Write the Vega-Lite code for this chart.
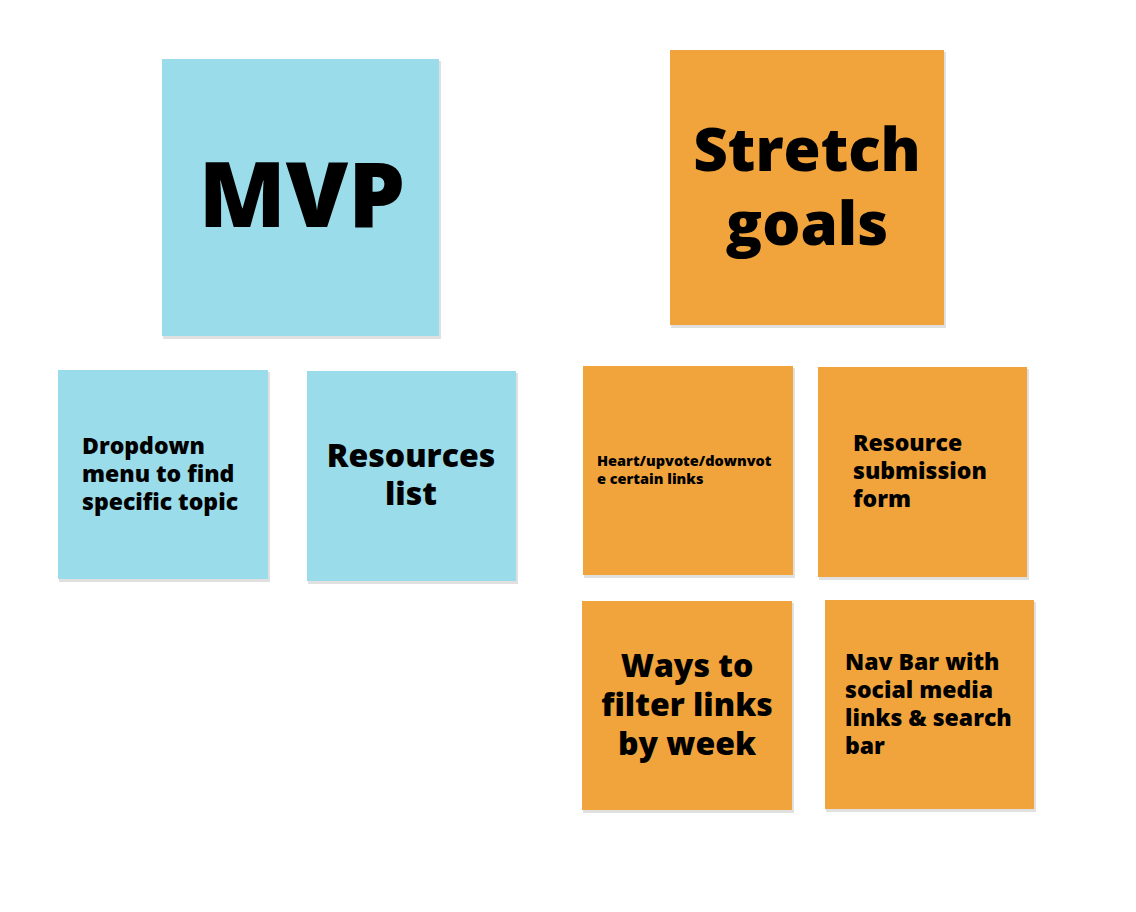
{
"$schema":"https://vega.github.io/schema/vega-lite/v6.json",
"autosize":{"type":"fit","contains":"padding"},
"width":1136,"height":912,"padding":0,
"background":"white",
"config":{"view":{"stroke":null}},
"datasets":{
"notes":[
{"id":"MVP","x":162,"x2":439,"y":59,"y2":336,"kind":"mvp"},
{"id":"Stretch","x":670,"x2":944,"y":50,"y2":325,"kind":"stretch"},
{"id":"Dropdown","x":58,"x2":268,"y":370,"y2":579,"kind":"mvp"},
{"id":"Resources","x":307,"x2":516,"y":371,"y2":581,"kind":"mvp"},
{"id":"Heart","x":583,"x2":793,"y":366,"y2":575,"kind":"stretch"},
{"id":"Submission","x":818,"x2":1027,"y":367,"y2":577,"kind":"stretch"},
{"id":"Ways","x":582,"x2":792,"y":601,"y2":810,"kind":"stretch"},
{"id":"Nav","x":825,"x2":1034,"y":600,"y2":809,"kind":"stretch"}
],
"center":[
{"x":302,"y":200,"text":"MVP","size":90},
{"x":807,"y":153,"text":"Stretch","size":60},
{"x":807,"y":227,"text":"goals","size":60},
{"x":411,"y":457,"text":"Resources","size":32},
{"x":411,"y":495,"text":"list","size":32},
{"x":687,"y":667,"text":"Ways to","size":32},
{"x":687,"y":706,"text":"filter links","size":32},
{"x":687,"y":745,"text":"by week","size":32}
],
"left":[
{"x":82,"y":447,"text":"Dropdown","size":23},
{"x":82,"y":475,"text":"menu to find","size":23},
{"x":82,"y":503,"text":"specific topic","size":23},
{"x":597,"y":462,"text":"Heart/upvote/downvot","size":14.5},
{"x":597,"y":480,"text":"e certain links","size":14.5},
{"x":853,"y":444,"text":"Resource","size":23},
{"x":853,"y":472,"text":"submission","size":23},
{"x":853,"y":500,"text":"form","size":23},
{"x":845,"y":663,"text":"Nav Bar with","size":23},
{"x":845,"y":691,"text":"social media","size":23},
{"x":845,"y":719,"text":"links & search","size":23},
{"x":845,"y":747,"text":"bar","size":23}
]
},
"layer":[
{"data":{"name":"notes"},"mark":{"type":"rect","color":"#000000","opacity":0.12},
"transform":[{"calculate":"datum.x+1","as":"sx"},{"calculate":"datum.x2+2","as":"sx2"},{"calculate":"datum.y+2","as":"sy"},{"calculate":"datum.y2+3","as":"sy2"}],
"encoding":{"x":{"field":"sx","type":"quantitative","scale":{"domain":[0,1136]},"axis":null},"x2":{"field":"sx2"},
"y":{"field":"sy","type":"quantitative","scale":{"domain":[0,912],"reverse":true},"axis":null},"y2":{"field":"sy2"}}},
{"data":{"name":"notes"},"mark":{"type":"rect"},
"encoding":{"x":{"field":"x","type":"quantitative","scale":{"domain":[0,1136]},"axis":null},"x2":{"field":"x2"},
"y":{"field":"y","type":"quantitative","scale":{"domain":[0,912],"reverse":true},"axis":null},"y2":{"field":"y2"},
"color":{"field":"kind","type":"nominal","scale":{"domain":["mvp","stretch"],"range":["#9ADCE9","#F1A43C"]},"legend":null}}},
{"data":{"name":"center"},"mark":{"type":"text","align":"center","baseline":"middle","font":"Open Sans","fontWeight":800,"color":"#000000"},
"encoding":{"x":{"field":"x","type":"quantitative","scale":{"domain":[0,1136]},"axis":null},
"y":{"field":"y","type":"quantitative","scale":{"domain":[0,912],"reverse":true},"axis":null},
"text":{"field":"text"},"size":{"field":"size","type":"quantitative","scale":null}}},
{"data":{"name":"left"},"mark":{"type":"text","align":"left","baseline":"middle","font":"Open Sans","fontWeight":800,"color":"#000000"},
"encoding":{"x":{"field":"x","type":"quantitative","scale":{"domain":[0,1136]},"axis":null},
"y":{"field":"y","type":"quantitative","scale":{"domain":[0,912],"reverse":true},"axis":null},
"text":{"field":"text"},"size":{"field":"size","type":"quantitative","scale":null}}}
]
}
